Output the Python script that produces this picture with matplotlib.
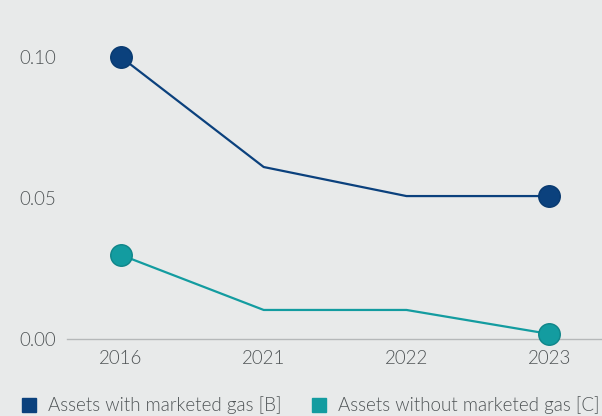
import matplotlib
matplotlib.use("Agg")
import matplotlib.pyplot as plt
from matplotlib.lines import Line2D

years = ["2016", "2021", "2022", "2023"]
with_gas = [0.100, 0.061, 0.0507, 0.0507]
without_gas = [0.0298, 0.0103, 0.0103, 0.0018]
series_labels = ["Assets with marketed gas [B]", "Assets without marketed gas [C]"]
yticks = [0.00, 0.05, 0.10]
ytick_labels = ["0.00", "0.05", "0.10"]

bg = "#e8eaea"
c_b = "#0b417d"
c_c = "#139ca0"
txt = "#4f5456"

plt.rcParams['font.family'] = ['Lato', 'DejaVu Sans']
plt.rcParams['font.weight'] = 300

fig = plt.figure(figsize=(6.02, 4.16), dpi=100, facecolor=bg)
ax = fig.add_axes([67/602, (416-339)/416, 1 - 67/602, (339-30)/416])
ax.set_facecolor(bg)

x = list(range(len(years)))
ax.plot(x, with_gas, color=c_b, lw=1.6, marker="o", markevery=[0, 3],
        ms=15.5, mfc=c_b, mec="#083a70", mew=1, clip_on=False, zorder=3)
ax.plot(x, without_gas, color=c_c, lw=1.6, marker="o", markevery=[0, 3],
        ms=15.5, mfc=c_c, mec="#0f8589", mew=1, clip_on=False, zorder=3)

ax.set_xlim(-0.378, 3.37)
ax.set_ylim(0, 0.1096)
ax.set_xticks(x)
ax.set_xticklabels(years)
ax.set_yticks(yticks)
ax.set_yticklabels(ytick_labels)
ax.tick_params(axis="both", length=0, labelsize=13.5, colors=txt)
ax.tick_params(axis="y", pad=8)
ax.tick_params(axis="x", pad=8)
for s in ["top", "right", "left"]:
    ax.spines[s].set_visible(False)
ax.spines["bottom"].set_color("#b5b8b9")
ax.spines["bottom"].set_linewidth(1.0)
ax.spines["bottom"].set_zorder(1)

handles = [Line2D([], [], ls="none", marker="s", ms=10, mfc=c_b, mec=c_b),
           Line2D([], [], ls="none", marker="s", ms=10, mfc=c_c, mec=c_c)]
leg = fig.legend(handles, series_labels, loc="lower left", bbox_to_anchor=(0.005, -0.036),
                 ncol=2, frameon=False, fontsize=13.5, handlelength=1.0,
                 handletextpad=0.5, columnspacing=1.5, labelcolor=txt)

fig.savefig("out.png", dpi=100, facecolor=bg)
